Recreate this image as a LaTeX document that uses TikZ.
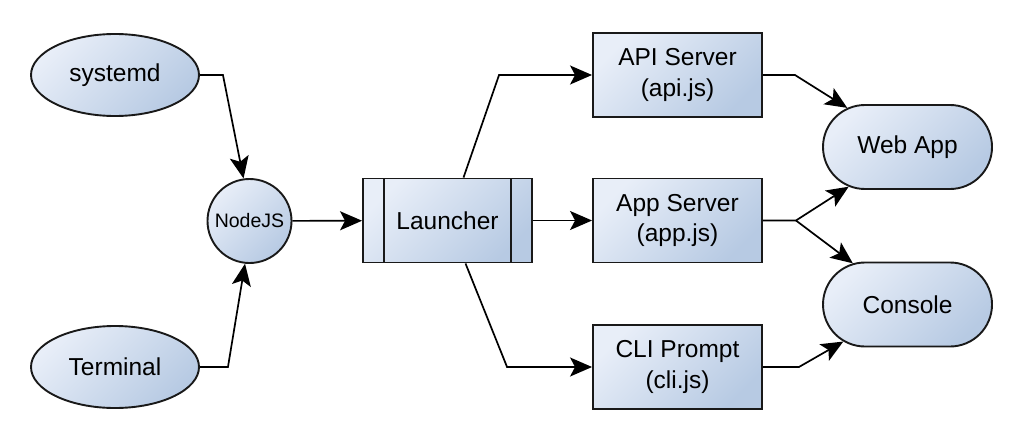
\documentclass[tikz,border=0pt]{standalone}
\usepackage{fontspec}
\setmainfont{Liberation Sans}
\usetikzlibrary{arrows.meta,shapes.geometric,shapes.misc}

\definecolor{shadeTop}{HTML}{E8EEF8}
\definecolor{shadeBot}{HTML}{B7CAE3}

\tikzset{
  box/.style={draw=black!90, line width=1.9pt, top color=shadeTop, bottom color=shadeBot,
    shading angle=45, align=center, inner sep=0pt, font=\fontsize{24.5}{30.5}\selectfont},
  source/.style={box, ellipse, minimum width=168pt, minimum height=82pt},
  hub/.style={box, circle, minimum size=84pt, font=\fontsize{19.5}{23}\selectfont},
  proc/.style={box, rectangle, minimum width=169pt, minimum height=84pt},
  launch/.style={proc, path picture={
    \draw[line width=1.9pt, black!90]
      ([xshift=21pt]path picture bounding box.north west) -- ([xshift=21pt]path picture bounding box.south west)
      ([xshift=-21pt]path picture bounding box.north east) -- ([xshift=-21pt]path picture bounding box.south east);}},
  client/.style={box, rounded rectangle, minimum width=169pt, minimum height=84pt},
  link/.style={line width=1.7pt, -{Stealth[length=22pt,width=19pt,inset=5pt]}}
}

\begin{document}
\begin{tikzpicture}[x=1pt,y=-1pt]

\useasboundingbox (0,0) rectangle (1024,441);

\node[source] (sd) at (115,75) {systemd};
\node[source] (tm) at (115,367) {Terminal};
\node[hub] (nj) at (249.5,221) {NodeJS};
\node[launch] (ln) at (447.5,220.5) {Launcher};

\node[proc] (api) at (677.5,75) {API Server\\(api.js)};
\node[proc] (app) at (677.5,220.5) {App Server\\(app.js)};
\node[proc] (cli) at (677.5,367) {CLI Prompt\\(cli.js)};

\node[client] (web) at (907.5,147) {Web App};
\node[client] (con) at (907.5,304.5) {Console};

\draw[link] (sd.east) -- ++(23,0) -- (nj.98);
\draw[link] (tm.east) -- ++(28,0) -- (nj.264);
\path[link] (nj) edge (ln) (ln) edge (app);

\draw[link] ([xshift=16pt]ln.north) -- ([xshift=-93pt]api.west) -- (api.west);
\draw[link] ([xshift=18pt]ln.south) -- ([xshift=-85pt]cli.west) -- (cli.west);

\draw[link] (api.east) -- ++(32,0) -- (web.147);
\draw[link] (app.east) -- ++(33,0) coordinate (fork) -- (web.214);
\draw[link] (fork) -- (con.143);
\draw[link] (cli.east) -- ++(36,0) -- (con.210);

\end{tikzpicture}
\end{document}
